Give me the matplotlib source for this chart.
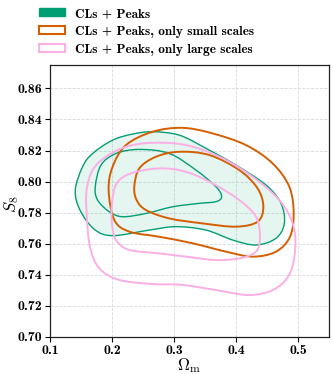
import numpy as np
import matplotlib
matplotlib.use('Agg')
import matplotlib.pyplot as plt
from matplotlib.path import Path
from matplotlib.patches import PathPatch, Patch

plt.rcParams['font.family'] = 'cmb10'
plt.rcParams['mathtext.fontset'] = 'cm'
plt.rcParams['axes.unicode_minus'] = False

# contour outlines (Omega_m, S8)
green_95_om = [0.1409, 0.1527, 0.1688, 0.2011, 0.2333, 0.2656, 0.3086, 0.3516, 0.4000, 0.4484, 0.4726,
               0.4780, 0.4645, 0.4323, 0.3946, 0.3516, 0.3032, 0.2602, 0.2011, 0.1715, 0.1484]
green_95_s8 = [0.7946, 0.8096, 0.8181, 0.8267, 0.8306, 0.8321, 0.8299, 0.8214, 0.8106, 0.7978, 0.7860,
               0.7731, 0.7635, 0.7592, 0.7624, 0.7688, 0.7710, 0.7688, 0.7652, 0.7693, 0.7817]
green_68_om = [0.1731, 0.1823, 0.2065, 0.2441, 0.2925, 0.3355, 0.3677, 0.3769, 0.3677, 0.3409, 0.2978,
               0.2548, 0.2172, 0.1957, 0.1769]
green_68_s8 = [0.7967, 0.8106, 0.8181, 0.8207, 0.8181, 0.8074, 0.7967, 0.7903, 0.7871, 0.7860, 0.7838,
               0.7795, 0.7774, 0.7806, 0.7881]

small_95_om = [0.1946, 0.2011, 0.2226, 0.2656, 0.3140, 0.3624, 0.4161, 0.4591, 0.4860, 0.4930, 0.4871,
               0.4645, 0.4269, 0.3839, 0.3301, 0.2763, 0.2280, 0.2038]
small_95_s8 = [0.7946, 0.8096, 0.8235, 0.8321, 0.8346, 0.8310, 0.8235, 0.8117, 0.7967, 0.7795, 0.7645,
               0.7549, 0.7517, 0.7549, 0.7603, 0.7645, 0.7678, 0.7753]
small_68_om = [0.2360, 0.2441, 0.2710, 0.3086, 0.3570, 0.4054, 0.4349, 0.4441, 0.4349, 0.4000, 0.3462,
               0.2925, 0.2548, 0.2398]
small_68_s8 = [0.7967, 0.8085, 0.8160, 0.8192, 0.8171, 0.8074, 0.7956, 0.7838, 0.7742, 0.7710, 0.7731,
               0.7763, 0.7817, 0.7881]

large_95_om = [0.1591, 0.1688, 0.1903, 0.2226, 0.2656, 0.3194, 0.3731, 0.4269, 0.4699, 0.4914, 0.4957,
               0.4871, 0.4618, 0.4215, 0.3677, 0.3140, 0.2656, 0.2118, 0.1796, 0.1645, 0.1591]
large_95_s8 = [0.7946, 0.8074, 0.8160, 0.8224, 0.8250, 0.8235, 0.8160, 0.8031, 0.7881, 0.7731, 0.7581,
               0.7410, 0.7307, 0.7270, 0.7302, 0.7335, 0.7341, 0.7367, 0.7442, 0.7581, 0.7795]
large_68_om = [0.2000, 0.2075, 0.2306, 0.2763, 0.3194, 0.3624, 0.4054, 0.4323, 0.4387, 0.4323, 0.4054,
               0.3677, 0.3194, 0.2763, 0.2280, 0.2065, 0.2000]
large_68_s8 = [0.7860, 0.7988, 0.8053, 0.8085, 0.8063, 0.7988, 0.7881, 0.7774, 0.7645, 0.7549, 0.7506,
               0.7495, 0.7517, 0.7538, 0.7560, 0.7624, 0.7731]

labels = ['CLs + Peaks', 'CLs + Peaks, only small scales', 'CLs + Peaks, only large scales']
green = '#029e73'
orange = '#d55e00'
pink = '#fbafe4'


def smooth_path(xs, ys):
    # closed Catmull-Rom outline drawn as cubic Bezier pieces
    p = np.column_stack([xs, ys])
    n = len(p)
    verts = [p[0]]
    codes = [Path.MOVETO]
    for i in range(n):
        p0, p1, p2, p3 = p[i - 1], p[i], p[(i + 1) % n], p[(i + 2) % n]
        verts += [p1 + (p2 - p0) / 6, p2 - (p3 - p1) / 6, p2]
        codes += [Path.CURVE4] * 3
    return Path(verts, codes)


fig = plt.figure(figsize=(3.33, 3.74), dpi=100)
ax = fig.add_axes([0.150, 0.099, 0.838, 0.727])

ax.add_patch(PathPatch(smooth_path(green_95_om, green_95_s8), facecolor=green, alpha=0.1, edgecolor='none'))
ax.add_patch(PathPatch(smooth_path(green_95_om, green_95_s8), facecolor='none', edgecolor=green, lw=1.0))
ax.add_patch(PathPatch(smooth_path(green_68_om, green_68_s8), facecolor='none', edgecolor=green, lw=1.0))
ax.add_patch(PathPatch(smooth_path(small_95_om, small_95_s8), facecolor='none', edgecolor=orange, lw=1.4))
ax.add_patch(PathPatch(smooth_path(small_68_om, small_68_s8), facecolor='none', edgecolor=orange, lw=1.4))
ax.add_patch(PathPatch(smooth_path(large_95_om, large_95_s8), facecolor='none', edgecolor=pink, lw=1.4))
ax.add_patch(PathPatch(smooth_path(large_68_om, large_68_s8), facecolor='none', edgecolor=pink, lw=1.4))

ax.set_xlim(0.1, 0.55)
ax.set_ylim(0.70, 0.875)
ax.set_xticks([0.1, 0.2, 0.3, 0.4, 0.5])
ax.set_yticks(np.arange(0.70, 0.861, 0.02))
ax.set_xticklabels(['0.1', '0.2', '0.3', '0.4', '0.5'])
ax.set_yticklabels(['%.2f' % v for v in np.arange(0.70, 0.861, 0.02)])
ax.tick_params(labelsize=10, length=3.5, width=0.8, pad=2)
ax.grid(True, ls='--', lw=0.6, color='#d9d9d9')
ax.set_axisbelow(True)
for s in ax.spines.values():
    s.set_linewidth(0.9)
    s.set_color('#222222')
ax.set_xlabel(r'$\Omega_{\rm m}$', fontsize=12, labelpad=0)
ax.set_ylabel(r'$S_8$', fontsize=12)
ax.yaxis.set_label_coords(-0.102, 0.49)

handles = [Patch(facecolor=green, edgecolor=green),
           Patch(facecolor='white', edgecolor=orange, lw=1.5),
           Patch(facecolor='white', edgecolor=pink, lw=1.5)]
fig.legend(handles, labels, loc='upper left', bbox_to_anchor=(0.08, 1.01), frameon=False,
           fontsize=9.5, handlelength=2.0, handleheight=0.55, labelspacing=0.45, handletextpad=0.8)

fig.savefig('out.png', dpi=100)
